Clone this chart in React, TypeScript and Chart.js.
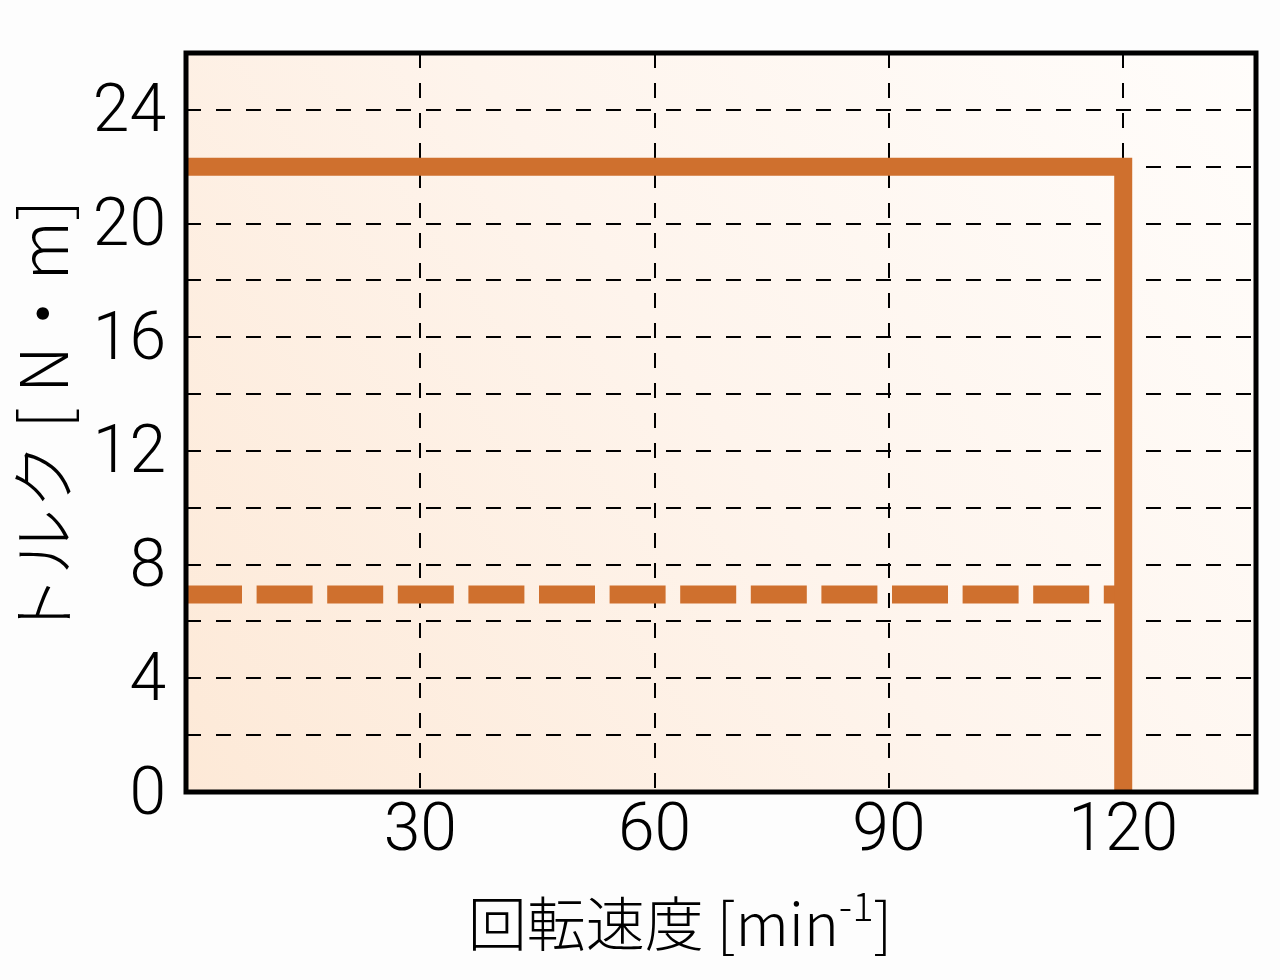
import React, { useEffect, useRef } from 'react';
import { Chart, registerables } from 'chart.js';

Chart.register(...registerables);

// ---- data ----
const xTickValues = [0, 30, 60, 90, 120];
const yLabelValues = [0, 4, 8, 12, 16, 20, 24];
const yGridStep = 2;
const xMax = 137;
const yMax = 26;

const ratedSpeed = [0, 120, 120];
const ratedTorque = [22, 22, 0];
const continuousSpeed = [0, 120];
const continuousTorque = [6.95, 6.95];

const xTitleMain = '回転速度 [min';
const xTitleSup = '-1';
const xTitleEnd = ']';
const yTitle = 'トルク [ N・m]';

const ORANGE = 'rgb(207,112,46)';
const TICK_FONT = { family: 'Roboto, "Liberation Sans", sans-serif', size: 66, weight: 300 as any, lineHeight: 1 };
const CJK = '"Noto Sans CJK JP", "Noto Sans", sans-serif';

const bgPlugin = {
  id: 'bgPlugin',
  beforeDraw(chart: any) {
    const { ctx, chartArea: a, width, height } = chart;
    ctx.save();
    ctx.fillStyle = '#fdfdfd';
    ctx.fillRect(0, 0, width, height);
    const g = ctx.createLinearGradient(a.left, a.bottom, a.right, a.top);
    g.addColorStop(0, '#fde9d7');
    g.addColorStop(0.5, '#fef4ec');
    g.addColorStop(1, '#fffdfb');
    ctx.fillStyle = g;
    ctx.fillRect(a.left, a.top, a.right - a.left, a.bottom - a.top);
    ctx.restore();
  },
};

const framePlugin = {
  id: 'framePlugin',
  afterDatasetsDraw(chart: any) {
    const { ctx, chartArea: a } = chart;
    ctx.save();
    ctx.lineWidth = 5;
    ctx.strokeStyle = '#000';
    ctx.lineJoin = 'miter';
    ctx.strokeRect(a.left, a.top, a.right - a.left, a.bottom - a.top);
    ctx.restore();
  },
};

const titlesPlugin = {
  id: 'titlesPlugin',
  afterDraw(chart: any) {
    const { ctx, chartArea: a } = chart;
    ctx.save();
    ctx.fillStyle = '#000';
    // x title with superscript
    const xFont = `300 59px ${CJK}`;
    const supFont = `300 40px ${CJK}`;
    ctx.font = xFont;
    const w1 = ctx.measureText(xTitleMain).width;
    const w3 = ctx.measureText(xTitleEnd).width;
    ctx.font = supFont;
    const w2 = ctx.measureText(xTitleSup).width;
    const total = w1 + w2 + w3;
    const cx = (a.left + a.right) / 2 - 41;
    const baseY = 946;
    let x = cx - total / 2;
    ctx.textAlign = 'left';
    ctx.textBaseline = 'alphabetic';
    ctx.font = xFont;
    ctx.fillText(xTitleMain, x, baseY);
    x += w1;
    ctx.font = supFont;
    ctx.fillText(xTitleSup, x, baseY - 25);
    x += w2;
    ctx.font = xFont;
    ctx.fillText(xTitleEnd, x, baseY);

    // y title rotated
    ctx.translate(43, (a.top + a.bottom) / 2 - 2);
    ctx.rotate(-Math.PI / 2);
    ctx.textAlign = 'center';
    ctx.textBaseline = 'middle';
    ctx.font = `300 66px ${CJK}`;
    ctx.fillText(yTitle, 0, 0);
    ctx.restore();
  },
};

export default function App() {
  const ref = useRef<HTMLCanvasElement | null>(null);

  useEffect(() => {
    if (!ref.current) return;
    const chart = new Chart(ref.current, {
      type: 'line',
      data: {
        datasets: [
          {
            label: 'rated',
            data: ratedSpeed.map((s, i) => ({ x: s, y: ratedTorque[i] })),
            borderColor: ORANGE,
            borderWidth: 18,
            borderJoinStyle: 'miter',
            borderCapStyle: 'butt',
            pointRadius: 0,
            tension: 0,
            fill: false,
          },
          {
            label: 'continuous',
            data: continuousSpeed.map((s, i) => ({ x: s, y: continuousTorque[i] })),
            borderColor: ORANGE,
            borderWidth: 18,
            borderDash: [56, 14.6],
            borderCapStyle: 'butt',
            pointRadius: 0,
            tension: 0,
            fill: false,
          },
        ],
      },
      options: {
        responsive: false,
        animation: false,
        layout: { padding: { left: 0, right: 24, top: 51, bottom: 0 } },
        plugins: {
          legend: { display: false },
          tooltip: { enabled: false },
          title: { display: false },
        },
        scales: {
          x: {
            type: 'linear',
            min: 0,
            max: xMax,
            afterFit: (s: any) => {
              s.height = 188;
            },
            afterBuildTicks: (s: any) => {
              s.ticks = xTickValues.map((v) => ({ value: v }));
            },
            grid: { color: '#000', lineWidth: 2, drawTicks: false },
            border: { display: false, dash: [15, 15] },
            ticks: {
              autoSkip: false,
              maxRotation: 0,
              font: TICK_FONT,
              color: '#000',
              padding: 8,
              callback: (v: any) => (v === 0 ? '' : String(v)),
            },
          },
          y: {
            type: 'linear',
            min: 0,
            max: yMax,
            afterFit: (s: any) => {
              s.width = 186;
            },
            grid: { color: '#000', lineWidth: 2, drawTicks: false },
            border: { display: false, dash: [15, 15] },
            ticks: {
              stepSize: yGridStep,
              autoSkip: false,
              font: TICK_FONT,
              color: '#000',
              padding: 20,
              labelOffset: 5,
              callback: (v: any) => (yLabelValues.includes(Number(v)) ? String(v) : ''),
            },
          },
        },
      },
      plugins: [bgPlugin, framePlugin, titlesPlugin],
    } as any);
    return () => chart.destroy();
  }, []);

  return (
    <div style={{ position: 'absolute', left: 0, top: 0, width: 1280, height: 980, background: '#fdfdfd' }}>
      <canvas ref={ref} width={1280} height={980} style={{ display: 'block', width: 1280, height: 980 }} />
    </div>
  );
}
